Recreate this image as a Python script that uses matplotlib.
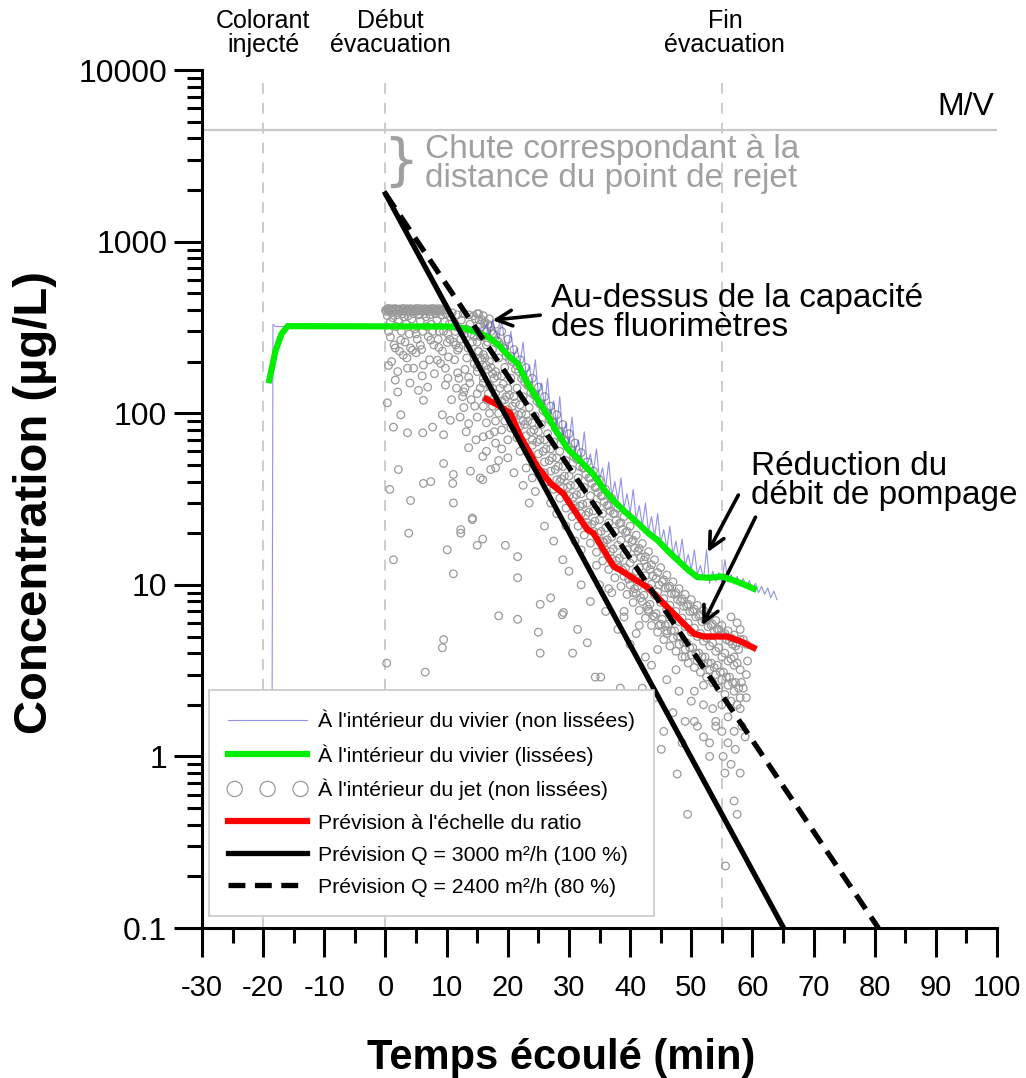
import numpy as np
import matplotlib
matplotlib.use('Agg')
import matplotlib.pyplot as plt
from matplotlib.ticker import LogLocator, NullFormatter

plt.rcParams['font.family'] = ['Liberation Sans', 'DejaVu Sans']
plt.rcParams['axes.unicode_minus'] = False

# --- Données -------------------------------------------------------------

# repères temporels (min)
event_t = [-20, 0, 55]
event_labels = ['Colorant\ninjecté', 'Début\névacuation', 'Fin\névacuation']
event_label_t = [-20, 0.8, 55.5]
mv_level = 4500

# vivier, non lissées (bleu)
vivier_t = [-18.6, -18.4, -18.0, -16.0, 0.0, 10.0, 15.0,
            16.0, 16.5, 17.0, 17.5, 18.0, 18.5, 19.0, 19.5, 20.0, 20.5,
            21.0, 21.5, 22.0, 22.5, 23.0, 23.5, 24.0, 24.5, 25.0, 25.5,
            26.0, 26.5, 27.0, 27.5, 28.0, 28.5, 29.0, 29.5, 30.0, 30.5,
            31.0, 31.5, 32.0, 32.5, 33.0, 33.5, 34.0, 34.5, 35.0, 35.5,
            36.0, 36.5, 37.0, 37.5, 38.0, 38.5, 39.0, 39.5, 40.0, 40.5,
            41.0, 41.5, 42.0, 42.5, 43.0, 43.5, 44.0, 44.5, 45.0, 45.5,
            46.0, 46.5, 47.0, 47.5, 48.0, 48.5, 49.0, 49.5, 50.0, 50.5,
            51.0, 51.5, 52.0, 52.5, 53.0, 53.5, 54.0, 54.5, 55.0, 55.5,
            56.0, 56.5, 57.0, 57.5, 58.0, 58.5, 59.0, 59.5, 60.0, 60.5,
            61.0, 61.5, 62.0, 62.5, 63.0, 63.5, 64.0]
vivier_c = [0.2, 330, 320, 320, 320, 320, 318,
            300, 335, 285, 350, 300, 270, 345, 260, 235, 300,
            215, 240, 195, 260, 165, 190, 150, 205, 128, 150,
            112, 160, 98, 118, 85, 125, 72, 88, 66, 95,
            60, 70, 55, 78, 50, 58, 46, 62, 41, 48,
            37, 52, 33, 40, 31, 42, 28, 34, 26, 36,
            24, 29, 22, 30, 20.5, 25, 19, 26, 17.5, 21,
            16.2, 22, 15, 18, 14, 18.5, 13, 15, 12.2, 16,
            11.5, 13, 10.8, 16, 10.2, 12, 10.5, 11.8, 10.2, 14,
            10.4, 11.5, 10.1, 11.2, 9.8, 10.9, 9.6, 10.6, 9.4, 10.2,
            9.0, 9.8, 8.8, 9.6, 8.4, 9.2, 8.2]

# vivier, lissées (vert)
lisse_t = [-19.0, -18.0, -17.0, -16.0, 11.0, 13.0, 15.0, 17.0, 18.5, 20.0,
           21.6, 23.2, 25.0, 26.5, 28.0, 29.8, 32.0, 34.0, 36.0, 37.3,
           39.0, 41.2, 43.0, 44.5, 46.0, 47.8, 49.5, 51.0, 53.0, 55.0,
           57.0, 58.5, 60.2]
lisse_c = [156, 230, 290, 322, 320, 312, 297, 275, 250, 218,
           195, 150, 118, 97, 78, 62, 52, 44, 35, 31,
           27, 23, 20, 18.2, 16, 13.9, 12.2, 11.1, 11.0, 11.2,
           10.6, 10.1, 9.5]

# prévision à l'échelle du ratio (rouge)
ratio_t = [16.5, 18.3, 20.4, 22.1, 24.8, 27.0, 29.1, 29.8, 33.0, 34.0,
           37.3, 38.4, 42.8, 46.6, 50.4, 52.0, 55.9, 58.0, 60.2]
ratio_c = [121, 112, 100, 73, 49, 39, 34, 31, 21, 20,
           12.8, 12.2, 9.7, 7.1, 5.2, 5.0, 5.0, 4.7, 4.3]

# prévisions théoriques
q100_t = [0, 65.1]
q100_c = [1900, 0.1]
q80_t = [0, 80.6]
q80_c = [1900, 0.1]

# jet, non lissées : saturation des fluorimètres
sat_t = [0.0, 0.3, 0.6, 0.9, 1.2, 1.5, 1.8, 2.1, 2.4, 2.7, 3.0,
         3.3, 3.6, 3.9, 4.2, 4.5, 4.8, 5.1, 5.4, 5.7, 6.0, 6.3,
         6.6, 6.9, 7.2, 7.5, 7.8, 8.1, 8.4, 8.7, 9.0, 9.3, 9.6]
sat_c = [398, 404, 396, 402, 399, 405, 397, 401, 403, 396, 400,
         404, 398, 402, 396, 401, 405, 399, 397, 403, 400, 396,
         402, 398, 404, 400, 397, 403, 399, 401, 396, 402, 398]
sat2_t = [0.15, 0.45, 0.75, 1.05, 1.35, 1.65, 1.95, 2.25, 2.55, 2.85, 3.15,
          3.45, 3.75, 4.05, 4.35, 4.65, 4.95, 5.25, 5.55, 5.85, 6.15,
          6.45, 6.75, 7.05, 7.35, 7.65, 7.95, 8.25, 8.55, 8.85, 9.15]
sat2_c = [392, 408, 395, 406, 393, 407, 394, 405, 392, 408, 395,
          406, 393, 407, 394, 405, 392, 408, 395, 406, 393,
          407, 394, 405, 392, 408, 395, 406, 393, 407, 394]

# jet, non lissées : bande dense
band_t = [15.0, 15.5, 16.0, 16.5, 17.0, 17.5, 18.0, 18.5, 19.0, 19.5,
          20.0, 20.5, 21.0, 21.5, 22.0, 22.5, 23.0, 23.5, 24.0, 24.5,
          25.0, 25.5, 26.0, 26.5, 27.0, 27.5, 28.0, 28.5, 29.0, 29.5,
          30.0, 30.5, 31.0, 31.5, 32.0, 32.5, 33.0, 33.5, 34.0, 34.5,
          35.0, 35.5, 36.0, 36.5, 37.0, 37.5, 38.0, 38.5, 39.0, 39.5,
          40.0, 40.5, 41.0, 41.5, 42.0, 42.5, 43.0, 43.5, 44.0, 44.5,
          45.0, 45.5, 46.0, 46.5, 47.0, 47.5, 48.0, 48.5, 49.0, 49.5,
          50.0, 50.5, 51.0, 51.5, 52.0, 52.5, 53.0, 53.5, 54.0, 54.5,
          55.0, 55.5, 56.0, 56.5, 57.0, 57.5, 58.0]
band_hi = [380, 330, 370, 300, 355, 290, 330, 260, 300, 240,
           270, 215, 235, 190, 205, 165, 185, 145, 160, 128,
           142, 112, 125, 100, 110, 88, 98, 78, 86, 69,
           76, 61, 67, 54, 59, 48, 52, 42, 46, 37,
           41, 33, 36, 29, 32, 26, 28, 23, 25, 20.5,
           22, 18.2, 19.5, 16.3, 17.4, 14.6, 15.6, 13.1, 14, 11.8,
           12.6, 10.7, 11.4, 9.8, 10.4, 9.0, 9.5, 8.3, 8.8, 7.7,
           8.2, 7.2, 7.6, 6.7, 7.1, 6.3, 6.6, 5.9, 6.2, 5.5,
           5.8, 5.2, 5.4, 4.9, 5.1, 4.6, 4.8]
band_mid = [260, 280, 220, 250, 200, 235, 175, 210, 165, 185,
            140, 160, 125, 140, 112, 125, 98, 108, 88, 96,
            78, 86, 70, 76, 62, 68, 55, 60, 49, 53,
            43, 47, 38, 42, 34, 37, 30, 33, 27, 29,
            24, 26, 21.5, 23, 19, 20.5, 17, 18.2, 15, 16,
            13.4, 14.2, 12, 12.6, 10.7, 11.3, 9.6, 10.1, 8.7, 9.1,
            7.9, 8.3, 7.2, 7.6, 6.6, 7.0, 6.1, 6.4, 5.7, 6.0,
            5.3, 5.6, 5.0, 5.2, 4.7, 4.9, 4.4, 4.6, 4.1, 4.3,
            3.8, 4.0, 3.6, 3.7, 3.4, 3.5, 3.2]
band_lo = [175, 140, 160, 120, 145, 110, 130, 100, 118, 90,
           105, 82, 95, 72, 84, 66, 74, 58, 65, 50,
           58, 45, 52, 40, 46, 36, 41, 32, 37, 28,
           33, 25, 29, 22, 26, 19.5, 23, 17.5, 20.5, 15.5,
           18, 13.8, 16, 12.3, 14.2, 11, 12.6, 9.8, 11.2, 8.8,
           10, 7.9, 8.9, 7.1, 8, 6.4, 7.2, 5.8, 6.5, 5.3,
           5.9, 4.8, 5.4, 4.4, 4.9, 4.1, 4.5, 3.8, 4.2, 3.5,
           3.9, 3.3, 3.6, 3.1, 3.4, 2.9, 3.2, 2.7, 3.0, 2.5,
           2.8, 2.3, 2.6, 2.1, 2.4, 2.0, 2.2]

# bande dense, relevés intercalés
band2_t = [15.25, 15.75, 16.25, 16.75, 17.25, 17.75, 18.25, 18.75, 19.25, 19.75,
           20.25, 20.75, 21.25, 21.75, 22.25, 22.75, 23.25, 23.75, 24.25, 24.75,
           25.25, 25.75, 26.25, 26.75, 27.25, 27.75, 28.25, 28.75, 29.25, 29.75,
           30.25, 30.75, 31.25, 31.75, 32.25, 32.75, 33.25, 33.75, 34.25, 34.75,
           35.25, 35.75, 36.25, 36.75, 37.25, 37.75, 38.25, 38.75, 39.25, 39.75,
           40.25, 40.75, 41.25, 41.75, 42.25, 42.75, 43.25, 43.75, 44.25, 44.75,
           45.25, 45.75, 46.25, 46.75, 47.25, 47.75, 48.25, 48.75, 49.25, 49.75,
           50.25, 50.75, 51.25, 51.75, 52.25, 52.75, 53.25, 53.75, 54.25, 54.75,
           55.25, 55.75, 56.25, 56.75, 57.25, 57.75]
band2_a = [380, 350, 340, 330, 300, 290, 265, 250, 240, 215,
           205, 200, 180, 175, 160, 152, 145, 132, 128, 118,
           113, 104, 101, 92, 89, 82, 78, 72, 69, 64,
           61, 56, 54, 49, 48, 44, 42, 39, 37, 34.5,
           33, 30.5, 29, 27, 26, 23.8, 22.8, 21, 20.2, 18.6,
           17.8, 16.4, 15.7, 14.5, 13.9, 12.8, 12.3, 11.3, 10.9, 10.0,
           10.4, 9.6, 9.6, 8.9, 8.8, 8.2, 8.0, 7.5, 7.5, 7.0,
           7.0, 6.5, 6.6, 6.1, 6.2, 5.7, 5.8, 5.4, 5.5, 5.1,
           5.1, 4.8, 4.7, 4.5, 4.4, 4.2]
band2_b = [230, 205, 210, 180, 185, 160, 165, 140, 148, 125,
           128, 110, 115, 98, 100, 86, 90, 78, 80, 68,
           70, 60, 62, 53, 55, 47, 49, 41.5, 43, 37,
           38, 32.5, 33.5, 28.8, 29.5, 25.5, 26.5, 22.5, 23.5, 20,
           20.5, 17.6, 18.3, 15.6, 16.2, 13.8, 14.3, 12.2, 12.6, 10.8,
           11.1, 9.5, 9.8, 8.4, 8.7, 7.5, 7.7, 6.6, 6.8, 5.8,
           6.3, 5.8, 5.9, 5.4, 5.4, 5.0, 5.0, 4.6, 4.6, 4.3,
           4.3, 4.0, 4.0, 3.8, 3.8, 3.5, 3.5, 3.3, 3.4, 3.1,
           3.1, 2.9, 2.9, 2.7, 2.7, 2.5]

# début d'évacuation, amas sous la saturation
early_t = [0.5, 1.0, 1.4, 1.9, 2.3, 2.8, 3.2, 3.7, 4.1, 4.6,
           5.0, 5.5, 5.9, 6.4, 6.8, 7.3, 7.7, 8.2, 8.6, 9.1,
           9.9, 10.4, 10.9, 11.4, 11.8, 12.3, 12.7, 13.2, 13.6, 14.0,
           14.4, 14.9, 15.3, 15.8, 16.2, 16.7, 17.1, 16.0, 16.8, 17.5,
           11.6, 12.6, 13.8, 14.6, 10.2, 8.0, 6.0, 4.0, 2.0, 0.5]
early_c = [300, 385, 250, 375, 230, 380, 260, 370, 240, 380,
           290, 375, 235, 380, 320, 375, 300, 380, 270, 375,
           380, 330, 385, 300, 375, 270, 380, 310, 375, 290,
           370, 300, 350, 280, 330, 260, 320, 150, 130, 140,
           140, 125, 150, 110, 160, 170, 165, 150, 175, 190]

# jet, non lissées : points dispersés
cloud_t = [0.8, 2.5, 1.6, 2.9, 4.4, 5.7, 7.4, 8.7, 10.1, 3.6,
           4.6, 1.6, 6.2, 8.5, 10.3, 11.8, 11.8, 9.8, 6.9, 5.4,
           2.0, 9.8, 12.8, 13.6, 15.0, 0.3, 2.5, 6.2, 9.3, 12.8,
           15.0, 1.3, 6.1, 7.7, 10.6, 13.6, 16.0, 13.6, 15.9, 18.0,
           18.5, 17.2, 15.5, 2.1, 11.1, 9.5, 3.6, 9.5, 0.7, 4.1,
           6.2, 7.4, 11.0, 11.1, 13.9, 15.9, 3.8, 1.3, 10.1, 12.3,
           14.2, 11.1, 15.0, 19.6, 21.6, 18.5, 21.6, 9.5, 9.3, 6.5,
           0.2, 25.0, 25.3, 27.0, 28.9, 0.3, 0.8, 1.2, 1.7, 2.1,
           2.6, 3.0, 3.4, 3.9, 4.3, 4.8, 5.2, 5.7, 6.1, 6.6,
           7.0, 7.5, 7.9, 8.4, 8.8, 9.3, 9.7, 10.2, 10.6, 11.1,
           11.5, 12.0, 12.4, 12.9, 13.3, 13.8, 14.2, 14.7, 15.1, 1.0,
           3.5, 5.0, 7.2, 9.0, 11.3, 13.0, 14.5, 9.5, 10.5, 11.5,
           12.5, 13.5, 14.5, 15.5, 16.5, 17.5, 12.0, 13.0, 14.0, 15.0,
           16.0, 17.0, 18.0, 10.8, 12.2, 13.2, 14.8, 16.5, 17.8, 19.0,
           20.0, 19.5, 21.0, 22.0, 22.5, 23.0, 24.0, 24.5, 26.0, 27.0,
           28.5, 29.5, 31.0, 32.0, 33.0, 34.5, 35.5, 36.5, 38.0, 39.0,
           40.5, 41.5, 43.0, 44.5, 46.0, 47.5, 49.0, 50.5, 52.0, 53.5,
           55.0, 56.0, 57.0, 58.0, 58.5, 59.0, 30.6, 31.4, 33.0, 34.3,
           35.2, 38.4, 42.0, 25.3, 29.1, 21.6, 15.9, 14.2, 12.3, 16.5,
           17.0, 18.0, 19.0, 20.0, 21.0, 22.5, 23.5, 24.0, 26.0, 27.5,
           28.0, 29.0, 30.0, 31.0, 32.0, 33.5, 35.0, 36.0, 37.0, 38.0,
           39.0, 40.0, 41.0, 42.5, 43.5, 44.0, 46.0, 47.0, 48.0, 49.0,
           50.0, 51.0, 52.0, 53.0, 54.0, 45.1, 45.5, 47.7, 49.4, 48.5,
           50.5, 52.0, 53.0, 54.0, 55.0, 55.2, 55.5, 55.6, 56.0, 56.5,
           57.0, 57.5, 57.2, 58.0, 58.3, 58.8, 59.0, 59.2, 59.0, 58.5,
           58.0, 57.5, 56.5, 57.0, 58.2]
cloud_c = [278, 267, 240, 218, 233, 249, 267, 242, 258, 183,
           183, 156, 191, 204, 213, 233, 172, 183, 142, 136,
           133, 146, 133, 162, 186, 115, 98, 119, 98, 108,
           95, 83, 77, 83, 91, 87, 73, 63, 56, 67,
           53, 47, 42, 47, 44, 51, 77, 75, 36, 31,
           39, 40, 39, 30, 46, 41, 20, 14, 16, 21,
           24, 11.6, 17, 17, 14.6, 6.6, 6.3, 4.8, 4.3, 3.1,
           3.5, 5.3, 4.0, 8.4, 6.7, 370, 340, 360, 320, 350,
           300, 365, 330, 290, 355, 310, 270, 345, 300, 365,
           280, 330, 250, 350, 300, 230, 340, 290, 365, 260,
           320, 240, 350, 290, 210, 330, 260, 355, 230, 200,
           210, 225, 205, 195, 205, 180, 195, 300, 270, 250,
           300, 240, 280, 210, 190, 170, 160, 140, 120, 130,
           110, 100, 90, 120, 95, 78, 70, 88, 78, 80,
           70, 120, 100, 60, 90, 48, 70, 35, 45, 30,
           40, 22, 28, 16, 22, 13, 18, 9.5, 13, 7,
           9, 5.8, 7, 4.2, 5.2, 3.2, 3.8, 2.4, 2.6, 1.9,
           2.0, 1.7, 1.4, 1.9, 2.5, 3.0, 4.0, 5.5, 4.6, 2.9,
           2.9, 2.5, 2.5, 7.7, 6.9, 11, 18.5, 24.5, 20, 60,
           75, 48, 62, 55, 45, 38, 30, 42, 22, 18,
           26, 14, 12, 18, 10, 8, 10, 7, 9, 5.5,
           6.5, 4.5, 5.2, 3.8, 3.4, 2.2, 2.8, 1.8, 2.4, 1.6,
           2.1, 1.5, 2.0, 1.2, 1.6, 1.1, 1.4, 0.79, 0.46, 1.2,
           1.6, 1.3, 1.0, 1.5, 1.4, 1.0, 0.8, 0.23, 1.2, 0.9,
           0.55, 0.46, 1.1, 0.8, 1.5, 1.3, 2.2, 3.6, 4.5, 4.8,
           5.5, 6.0, 6.5, 3.8, 2.7]


def main():
    fig = plt.figure(figsize=(10.26, 10.78), dpi=100)
    ax = fig.add_axes([0.1969, 0.1391, 0.7749, 0.7959])
    ax.set_yscale('log')
    ax.set_xlim(-30, 100)
    ax.set_ylim(0.1, 10000)

    # repères
    ax.vlines(event_t, 0.1, 8400, colors='#c8c8c8', linestyles=(0, (6, 5)),
              lw=1.3, zorder=0)
    ax.axhline(mv_level, color='#c8c8c8', lw=1.6, zorder=0)

    # jet (cercles gris)
    jet_t = np.concatenate([sat_t, sat2_t, band_t, band_t, band_t,
                            band2_t, band2_t, early_t, cloud_t])
    jet_c = np.concatenate([sat_c, sat2_c, band_hi, band_mid, band_lo,
                            band2_a, band2_b, early_c, cloud_c])
    ax.plot(vivier_t, vivier_c, color='#4a4ad8', lw=0.8, alpha=0.6,
            zorder=3, label="À l'intérieur du vivier (non lissées)")
    ax.plot(lisse_t, lisse_c, color='#00ee00', lw=4.5, zorder=4,
            label="À l'intérieur du vivier (lissées)")
    ax.scatter(jet_t, jet_c, s=30, facecolors='none', edgecolors='#9a9a9a',
               linewidths=0.9, zorder=2, label="À l'intérieur du jet (non lissées)")
    ax.plot(ratio_t, ratio_c, color='#ff0000', lw=4.5, zorder=4,
            label="Prévision à l'échelle du ratio")
    ax.plot(q100_t, q100_c, color='black', lw=3.8, zorder=5,
            label='Prévision Q = 3000 m²/h (100 %)')
    ax.plot(q80_t, q80_c, color='black', lw=3.8, dashes=(3.2, 1.8), zorder=5,
            label='Prévision Q = 2400 m²/h (80 %)')

    # axes
    for side in ['top', 'right']:
        ax.spines[side].set_visible(False)
    for side in ['left', 'bottom']:
        ax.spines[side].set_linewidth(2.2)

    ax.set_xticks(range(-30, 101, 10))
    ax.set_xticks(range(-25, 100, 10), minor=True)
    ax.set_xticklabels([str(v) for v in range(-30, 101, 10)])
    ax.set_yticks([0.1, 1, 10, 100, 1000, 10000])
    ax.set_yticklabels(['0.1', '1', '10', '100', '1000', '10000'])
    ax.yaxis.set_minor_locator(LogLocator(base=10, subs=range(2, 10)))
    ax.yaxis.set_minor_formatter(NullFormatter())
    ax.tick_params(axis='x', which='major', direction='out', length=21,
                   width=2.2, labelsize=21, pad=12)
    ax.tick_params(axis='x', which='minor', direction='out', length=11, width=2.2)
    ax.tick_params(axis='y', which='major', direction='out', length=20,
                   width=2.2, labelsize=23, pad=5)
    ax.tick_params(axis='y', which='minor', direction='out', length=11, width=2.2)

    ax.set_xlabel('Temps écoulé (min)', fontsize=30, fontweight='bold')
    ax.xaxis.set_label_coords(0.452, -0.128)
    ax.set_ylabel('Concentration (µg/L)', fontsize=34, fontweight='bold')
    ax.yaxis.set_label_coords(-0.183, 0.4965)

    # textes
    tr = ax.get_xaxis_transform()
    for t, lab in zip(event_label_t, event_labels):
        ax.text(t, 1.043, lab, transform=tr, ha='center', va='center',
                fontsize=18, linespacing=1.0)
    ax.text(99.5, 5000, 'M/V', ha='right', va='bottom', fontsize=23)
    ax.text(2.5, 2900, '}', ha='center', va='center', fontsize=40,
            color='#a0a0a0', family='DejaVu Sans')
    ax.text(6.5, 2830, 'Chute correspondant à la\ndistance du point de rejet',
            ha='left', va='center', fontsize=24, color='#a0a0a0', linespacing=0.9)
    ax.text(27.0, 384, 'Au-dessus de la capacité\ndes fluorimètres',
            ha='left', va='center', fontsize=24, linespacing=0.9)
    ax.text(59.7, 40.3, 'Réduction du\ndébit de pompage',
            ha='left', va='center', fontsize=24, linespacing=0.9)

    arrow = dict(arrowstyle='->', lw=2.6, color='black', mutation_scale=28,
                 shrinkA=0, shrinkB=0)
    ax.annotate('', xy=(17.5, 349), xytext=(25.3, 373), arrowprops=arrow)
    ax.annotate('', xy=(52.7, 15.5), xytext=(57.7, 33.4), arrowprops=arrow)
    ax.annotate('', xy=(51.8, 5.8), xytext=(60.5, 24.8), arrowprops=arrow)

    leg = ax.legend(loc='lower left', bbox_to_anchor=(0.009, 0.014),
                    borderaxespad=0, fontsize=15.3, frameon=True, fancybox=False,
                    edgecolor='#c8c8c8', framealpha=1, handlelength=3.7,
                    handletextpad=0.5, labelspacing=0.62, borderpad=0.9,
                    scatterpoints=3, scatteryoffsets=[0.5], markerscale=2)
    leg.get_frame().set_linewidth(1.2)
    leg.set_zorder(10)

    fig.savefig('out.png', dpi=100)


if __name__ == '__main__':
    main()
